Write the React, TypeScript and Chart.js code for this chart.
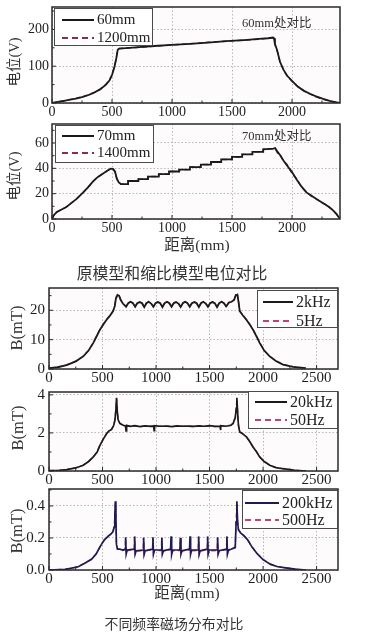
import React, { useEffect, useRef } from 'react';
import { Chart, registerables } from 'chart.js';

Chart.register(...registerables);

// ---------------- data ----------------
const xTicksTop = [0, 500, 1000, 1500, 2000];
const xMinorTop = [250, 750, 1250, 1750, 2250];
const xTicksBottom = [0, 500, 1000, 1500, 2000, 2500];
const xMinorBottom = [250, 750, 1250, 1750, 2250];

const yTicks1 = [0, 100, 200];
const yMinor1 = [50, 150, 250];
const yTicks2 = [0, 20, 40, 60];
const yMinor2 = [10, 30, 50, 70];
const yTicks3 = [0, 10, 20];
const yMinor3 = [5, 15, 25];
const yTicks4 = [0, 2, 4];
const yMinor4 = [1, 3];
const yTicks5 = [0, 0.2, 0.4];
const yMinor5 = [0.1, 0.3, 0.5];

const labels1 = ['60mm', '1200mm'];
const labels2 = ['70mm', '1400mm'];
const labels3 = ['2kHz', '5Hz'];
const labels4 = ['20kHz', '50Hz'];
const labels5 = ['200kHz', '500Hz'];

// Panel 1: potential at 60mm
const pos60 = [0, 50, 100, 150, 200, 250, 300, 350, 400, 450, 480, 500, 520, 535, 548, 560, 700, 850, 1000, 1150, 1300, 1450, 1600, 1750, 1800, 1842, 1850, 1858, 1875, 1900, 1930, 1960, 2000, 2050, 2100, 2150, 2200, 2260, 2320, 2370, 2400];
const v60 = [0, 3, 6, 9, 12, 16, 21, 28, 37, 50, 62, 76, 98, 120, 145, 148, 151, 155, 158, 161, 164, 168, 171, 175, 176, 178, 176, 160, 145, 112, 90, 74, 60, 44, 33, 25, 18, 11, 5, 2, 0];
const v1200 = [0, 3, 6, 9, 13, 17, 22, 28, 37, 51, 63, 77, 99, 121, 146, 148, 151, 154, 158, 161, 165, 168, 171, 174, 176, 177, 175, 158, 144, 111, 89, 73, 59, 44, 33, 24, 17, 10, 5, 2, 0];

// Panel 2: potential at 70mm (staircase)
const pos70 = [0, 15, 40, 80, 120, 160, 200, 250, 300, 340, 380, 420, 460, 490, 510, 525, 540, 555, 575, 634,
  634, 720, 720, 800, 800, 890, 890, 975, 975, 1060, 1060, 1150, 1150, 1240, 1240, 1325, 1325, 1410, 1410, 1500, 1500, 1585, 1585, 1670, 1670, 1760, 1760, 1845,
  1860, 1880, 1900, 1930, 1960, 2000, 2040, 2080, 2120, 2160, 2200, 2250, 2300, 2340, 2370, 2400];
const v70 = [0, 3, 5.5, 7.5, 9.5, 12.5, 15.5, 20, 25, 29.5, 33, 35.5, 38, 39.8, 39.5, 37.5, 32, 29, 27.5, 27.5,
  30, 30, 31.5, 31.5, 33.5, 33.5, 35.5, 35.5, 37.5, 37.5, 39, 39, 41, 41, 43, 43, 45, 45, 47, 47, 49, 49, 51, 51, 53, 53, 55, 55.5,
  56, 53, 50.5, 46, 42, 37, 31, 25.5, 21, 18.5, 16, 13, 10, 7, 4, 0];
const v1400 = [0, 3, 5.5, 7.5, 9.5, 12.5, 15.5, 20, 25, 29.5, 33, 35.5, 38, 39.6, 39.3, 37, 31.5, 28.8, 27.5, 27.5,
  30, 30, 31.5, 31.5, 33.5, 33.5, 35.5, 35.5, 37.5, 37.5, 39, 39, 41, 41, 43, 43, 45, 45, 47, 47, 49, 49, 51, 51, 53, 53, 55, 55.5,
  55.5, 52, 51, 45.5, 43, 36, 31.5, 25, 21.5, 18, 16, 13, 10.5, 7, 4, 0];

// Panel 3: B at 2kHz / 5Hz
const pos2k = [0, 80, 165, 250, 320, 370, 414, 450, 476, 510, 538, 570, 600, 615, 625, 640, 655, 670, 690,
  720, 740, 762, 784, 805, 825, 847, 869, 890, 910, 932, 954, 975, 995, 1017, 1039, 1060, 1080, 1102, 1124,
  1145, 1165, 1187, 1209, 1230, 1250, 1272, 1294, 1315, 1335, 1357, 1379, 1400, 1420, 1442, 1464,
  1485, 1505, 1527, 1549, 1570, 1590, 1612, 1634, 1655, 1680, 1705, 1730, 1745, 1760, 1770, 1782,
  1810, 1844, 1875, 1906, 1940, 1968, 2010, 2062, 2120, 2186, 2280, 2400];
const v2k = [0.3, 0.6, 1.3, 2.6, 4.3, 6.3, 8.9, 11.5, 13.4, 15.3, 16.8, 18.2, 19.8, 21.5, 24, 25.2, 25, 23.5, 22.3,
  21.2, 22.4, 22.9, 22.4, 21.2, 22.4, 22.8, 22.4, 21.1, 22.4, 22.9, 22.3, 21.2, 22.4, 22.8, 22.4, 21.1, 22.4, 22.9, 22.4,
  21.2, 22.4, 22.8, 22.3, 21.1, 22.4, 22.9, 22.4, 21.2, 22.4, 22.8, 22.4, 21.1, 22.4, 22.9, 22.3,
  21.2, 22.4, 22.8, 22.4, 21.1, 22.4, 22.9, 22.4, 21.3, 22.6, 22.9, 23.5, 25.2, 25.3, 23, 19.7,
  18.3, 16.8, 15.2, 13.4, 11, 8.9, 6.3, 4.3, 2.7, 1.5, 0.7, 0.3];
const v5 = [0.3, 0.6, 1.4, 2.7, 4.4, 6.4, 9.0, 11.6, 13.5, 15.4, 16.9, 18.3, 19.9, 21.7, 24.3, 25.4, 25.1, 23.6, 22.4,
  21.4, 22.5, 23.0, 22.5, 21.4, 22.5, 22.9, 22.5, 21.3, 22.5, 23.0, 22.4, 21.4, 22.5, 22.9, 22.5, 21.3, 22.5, 23.0, 22.5,
  21.4, 22.5, 22.9, 22.4, 21.3, 22.5, 23.0, 22.5, 21.4, 22.5, 22.9, 22.5, 21.3, 22.5, 23.0, 22.4,
  21.4, 22.5, 22.9, 22.5, 21.3, 22.5, 23.0, 22.5, 21.5, 22.7, 23.0, 23.7, 25.4, 25.5, 23.2, 19.9,
  18.4, 16.9, 15.3, 13.5, 11.1, 9.0, 6.4, 4.4, 2.8, 1.6, 0.8, 0.3];

// Panel 4: B at 20kHz / 50Hz
const pos20k = [0, 100, 165, 250, 320, 370, 414, 450, 476, 510, 538, 560, 585, 605, 616, 625, 631, 637, 645, 662,
  694, 715, 720, 725, 760, 800, 850, 900, 950, 978, 982, 986, 1030, 1100, 1150, 1200, 1250, 1300, 1350, 1400,
  1450, 1500, 1550, 1598, 1602, 1606, 1650, 1700, 1720, 1740, 1750, 1755, 1762, 1770, 1782, 1810, 1844, 1875, 1906, 1940,
  1968, 2010, 2062, 2120, 2186, 2300, 2400];
const v20k = [0.02, 0.04, 0.07, 0.16, 0.3, 0.5, 0.74, 1.0, 1.35, 1.7, 1.96, 2.1, 2.18, 2.4, 2.67, 3.2, 3.85, 3.2, 2.7, 2.5,
  2.4, 2.36, 2.1, 2.4, 2.35, 2.38, 2.33, 2.37, 2.34, 2.36, 2.12, 2.38, 2.35, 2.36, 2.33, 2.37, 2.35, 2.36, 2.34, 2.37,
  2.35, 2.38, 2.34, 2.35, 2.15, 2.38, 2.35, 2.4, 2.5, 2.8, 3.3, 3.85, 3.1, 2.4, 2.05, 1.95, 1.8, 1.55, 1.26, 1.0,
  0.74, 0.5, 0.3, 0.18, 0.12, 0.04, 0.0];
const v50 = [0.02, 0.04, 0.07, 0.17, 0.31, 0.5, 0.75, 1.02, 1.36, 1.72, 1.97, 2.1, 2.2, 2.42, 2.7, 3.25, 3.8, 3.25, 2.72, 2.5,
  2.4, 2.36, 2.34, 2.36, 2.35, 2.36, 2.34, 2.36, 2.35, 2.35, 2.34, 2.36, 2.35, 2.35, 2.34, 2.36, 2.35, 2.35, 2.34, 2.36,
  2.35, 2.36, 2.34, 2.35, 2.34, 2.36, 2.35, 2.4, 2.52, 2.82, 3.3, 3.8, 3.15, 2.42, 2.06, 1.96, 1.8, 1.56, 1.27, 1.01,
  0.75, 0.51, 0.31, 0.19, 0.12, 0.04, 0.0];

// Panel 5: B at 200kHz / 500Hz
const pos200k = [0, 149, 200, 273, 330, 397, 440, 490, 520, 552, 580, 598, 610, 615, 620, 625, 630, 640, 660, 690,
  711, 716, 721, 730, 795, 800, 805, 814, 879, 884, 889, 898, 966, 971, 976, 985, 1049, 1054, 1059, 1068,
  1136, 1141, 1146, 1155, 1223, 1228, 1233, 1242, 1313, 1318, 1323, 1332, 1393, 1398, 1403, 1412,
  1477, 1482, 1487, 1496, 1570, 1575, 1580, 1589, 1657, 1662, 1667, 1676,
  1700, 1740, 1748, 1755, 1762, 1770, 1792, 1820, 1854, 1900, 1947, 2000, 2071, 2130, 2195, 2300, 2400];
const v200k = [0, 0.004, 0.01, 0.02, 0.04, 0.067, 0.1, 0.16, 0.19, 0.21, 0.225, 0.24, 0.27, 0.33, 0.43, 0.33, 0.16, 0.13, 0.13, 0.125,
  0.13, 0.205, 0.1, 0.125, 0.13, 0.21, 0.1, 0.12, 0.125, 0.2, 0.098, 0.12, 0.13, 0.205, 0.1, 0.125, 0.125, 0.2, 0.1, 0.12,
  0.13, 0.21, 0.098, 0.125, 0.125, 0.2, 0.1, 0.12, 0.13, 0.21, 0.1, 0.125, 0.125, 0.21, 0.098, 0.12,
  0.13, 0.21, 0.1, 0.125, 0.125, 0.205, 0.1, 0.12, 0.13, 0.21, 0.1, 0.125,
  0.13, 0.14, 0.3, 0.43, 0.3, 0.25, 0.23, 0.215, 0.19, 0.14, 0.1, 0.065, 0.035, 0.022, 0.015, 0.005, 0];
const v500 = [0, 0.004, 0.01, 0.021, 0.041, 0.068, 0.1, 0.162, 0.192, 0.212, 0.226, 0.242, 0.275, 0.34, 0.42, 0.34, 0.165, 0.132, 0.128, 0.122,
  0.128, 0.2, 0.105, 0.12, 0.127, 0.205, 0.104, 0.118, 0.122, 0.205, 0.1, 0.118, 0.127, 0.2, 0.104, 0.12, 0.122, 0.205, 0.104, 0.118,
  0.127, 0.205, 0.1, 0.12, 0.122, 0.205, 0.104, 0.118, 0.127, 0.2, 0.104, 0.12, 0.122, 0.205, 0.1, 0.118,
  0.127, 0.205, 0.104, 0.12, 0.122, 0.2, 0.104, 0.118, 0.127, 0.205, 0.104, 0.12,
  0.128, 0.145, 0.31, 0.42, 0.31, 0.255, 0.232, 0.216, 0.192, 0.142, 0.102, 0.066, 0.036, 0.023, 0.015, 0.005, 0];

// ---------------- styling / layout ----------------
const SERIF = "'Liberation Serif', 'Times New Roman', 'Noto Sans CJK SC', serif";
const CJK = "'Noto Sans CJK SC', 'Noto Sans', sans-serif";
const SOLID_DARK = '#1a1a1a';
const DASH_TOP = '#8e2c48';
const DASH_PINK = '#c6416c';
const NAVY = '#1e1a52';

interface Series { label: string; y: number[]; color: string; dash: number[]; width: number }
interface Spec {
  canvasTop: number; canvasHeight: number;
  left: number; right: number; top: number; bottom: number;
  xs: number[]; series: Series[];
  xMax: number; yMax: number;
  xTicks: number[]; xMinor: number[]; yTicks: number[]; yMinor: number[];
  yFmt: (v: number) => string;
  tickSize: number; yPad: number;
  yTitle: { text: string; x: number; y: number; size: number };
  xTitle?: { text: string; x: number; y: number; size: number };
  legend: { x: number; y: number; w: number; h: number; lx0: number; lx1: number; tx: number; rows: number[]; size: number };
  note?: { text: string; x: number; y: number; size: number };
}

const specs: Spec[] = [
  {
    canvasTop: 0, canvasHeight: 122, left: 52, right: 340, top: 7, bottom: 103,
    xs: pos60,
    series: [
      { label: labels1[0], y: v60, color: SOLID_DARK, dash: [], width: 1.8 },
      { label: labels1[1], y: v1200, color: DASH_TOP, dash: [5, 3], width: 1.4 },
    ],
    xMax: 2400, yMax: 261,
    xTicks: xTicksTop, xMinor: xMinorTop, yTicks: yTicks1, yMinor: yMinor1,
    yFmt: (v) => String(v), tickSize: 14, yPad: 3,
    yTitle: { text: '电位(V)', x: 15, y: 62, size: 14.5 },
    legend: { x: 54, y: 8, w: 98, h: 37, lx0: 62, lx1: 94, tx: 97, rows: [20, 38], size: 15 },
    note: { text: '60mm处对比', x: 242, y: 24, size: 12.5 },
  },
  {
    canvasTop: 112, canvasHeight: 145, left: 52, right: 340, top: 124, bottom: 219,
    xs: pos70,
    series: [
      { label: labels2[0], y: v70, color: SOLID_DARK, dash: [], width: 1.8 },
      { label: labels2[1], y: v1400, color: DASH_TOP, dash: [5, 3], width: 1.4 },
    ],
    xMax: 2400, yMax: 75,
    xTicks: xTicksTop, xMinor: xMinorTop, yTicks: yTicks2, yMinor: yMinor2,
    yFmt: (v) => String(v), tickSize: 14, yPad: 3,
    yTitle: { text: '电位(V)', x: 15, y: 176, size: 14.5 },
    xTitle: { text: '距离(mm)', x: 197, y: 246, size: 15.5 },
    legend: { x: 55, y: 125, w: 98, h: 37, lx0: 62, lx1: 94, tx: 97, rows: [136, 153], size: 15 },
    note: { text: '70mm处对比', x: 242, y: 137, size: 12.5 },
  },
  {
    canvasTop: 280, canvasHeight: 106, left: 49, right: 338, top: 288, bottom: 369,
    xs: pos2k,
    series: [
      { label: labels3[0], y: v2k, color: SOLID_DARK, dash: [], width: 1.8 },
      { label: labels3[1], y: v5, color: DASH_PINK, dash: [5, 3], width: 1.4 },
    ],
    xMax: 2700, yMax: 27.6,
    xTicks: xTicksBottom, xMinor: xMinorBottom, yTicks: yTicks3, yMinor: yMinor3,
    yFmt: (v) => String(v), tickSize: 15, yPad: 4,
    yTitle: { text: 'B(mT)', x: 18, y: 328, size: 16.5 },
    legend: { x: 257, y: 290, w: 80, h: 37, lx0: 263, lx1: 293, tx: 296, rows: [302, 321], size: 16 },
  },
  {
    canvasTop: 386, canvasHeight: 100, left: 49, right: 338, top: 392, bottom: 471,
    xs: pos20k,
    series: [
      { label: labels4[0], y: v20k, color: SOLID_DARK, dash: [], width: 1.7 },
      { label: labels4[1], y: v50, color: DASH_PINK, dash: [5, 3], width: 1.4 },
    ],
    xMax: 2700, yMax: 4.15,
    xTicks: xTicksBottom, xMinor: xMinorBottom, yTicks: yTicks4, yMinor: yMinor4,
    yFmt: (v) => String(v), tickSize: 15, yPad: 4,
    yTitle: { text: 'B(mT)', x: 19, y: 428, size: 16.5 },
    legend: { x: 248, y: 391, w: 89, h: 37, lx0: 255, lx1: 287, tx: 290, rows: [402, 420], size: 16 },
  },
  {
    canvasTop: 486, canvasHeight: 118, left: 49, right: 338, top: 489, bottom: 570,
    xs: pos200k,
    series: [
      { label: labels5[0], y: v200k, color: NAVY, dash: [], width: 1.7 },
      { label: labels5[1], y: v500, color: DASH_PINK, dash: [5, 3], width: 1.4 },
    ],
    xMax: 2700, yMax: 0.506,
    xTicks: xTicksBottom, xMinor: xMinorBottom, yTicks: yTicks5, yMinor: yMinor5,
    yFmt: (v) => v.toFixed(1), tickSize: 15, yPad: 4,
    yTitle: { text: 'B(mT)', x: 18, y: 531, size: 16.5 },
    xTitle: { text: '距离(mm)', x: 187, y: 594, size: 15.5 },
    legend: { x: 242, y: 490, w: 95, h: 38, lx0: 245, lx1: 279, tx: 282, rows: [503, 520], size: 16 },
  },
];

function makeDeco(p: Spec) {
  return {
    id: 'deco',
    beforeDraw(chart: any) {
      const { ctx, chartArea: a } = chart;
      ctx.save();
      ctx.fillStyle = '#fdfbfc';
      ctx.fillRect(a.left, a.top, a.right - a.left, a.bottom - a.top);
      ctx.restore();
    },
    afterDraw(chart: any) {
      const { ctx, chartArea: a, scales } = chart;
      const off = p.canvasTop;
      const xs = scales.x;
      const ys = scales.y;
      ctx.save();
      // inward ticks
      ctx.strokeStyle = '#2a2a2a';
      ctx.lineWidth = 1;
      ctx.setLineDash([]);
      const vline = (px: number, len: number) => {
        ctx.beginPath(); ctx.moveTo(px, a.bottom); ctx.lineTo(px, a.bottom - len); ctx.stroke();
      };
      const hline = (py: number, len: number) => {
        ctx.beginPath(); ctx.moveTo(a.left, py); ctx.lineTo(a.left + len, py); ctx.stroke();
      };
      p.xTicks.forEach((v) => vline(xs.getPixelForValue(v), 4));
      p.xMinor.forEach((v) => vline(xs.getPixelForValue(v), 2.5));
      p.yTicks.forEach((v) => hline(ys.getPixelForValue(v), 4));
      p.yMinor.forEach((v) => { if (v < p.yMax) hline(ys.getPixelForValue(v), 2.5); });
      // frame
      ctx.lineWidth = 1.5;
      ctx.strokeRect(a.left, a.top, a.right - a.left, a.bottom - a.top);

      // legend
      const L = p.legend;
      ctx.fillStyle = '#ffffff';
      ctx.fillRect(L.x, L.y - off, L.w, L.h);
      ctx.strokeStyle = '#4a4a4a';
      ctx.lineWidth = 1;
      ctx.strokeRect(L.x + 0.5, L.y - off + 0.5, L.w, L.h);
      p.series.forEach((s, i) => {
        const y = L.rows[i] - off;
        ctx.strokeStyle = s.color;
        ctx.lineWidth = 2;
        ctx.setLineDash(s.dash.length ? [6, 4] : []);
        ctx.beginPath(); ctx.moveTo(L.lx0, y); ctx.lineTo(L.lx1, y); ctx.stroke();
        ctx.setLineDash([]);
        ctx.fillStyle = '#222';
        ctx.font = `${L.size}px ${SERIF}`;
        ctx.textAlign = 'left';
        ctx.textBaseline = 'middle';
        ctx.fillText(s.label, L.tx, y + 0.5);
      });

      // annotation
      if (p.note) {
        ctx.fillStyle = '#333';
        ctx.font = `${p.note.size}px ${SERIF}`;
        ctx.textAlign = 'left';
        ctx.textBaseline = 'middle';
        ctx.fillText(p.note.text, p.note.x, p.note.y - off);
      }
      // y title
      ctx.save();
      ctx.translate(p.yTitle.x, p.yTitle.y - off);
      ctx.rotate(-Math.PI / 2);
      ctx.fillStyle = '#333';
      ctx.font = `${p.yTitle.size}px ${SERIF}`;
      ctx.textAlign = 'center';
      ctx.textBaseline = 'middle';
      ctx.fillText(p.yTitle.text, 0, 0);
      ctx.restore();
      // x title
      if (p.xTitle) {
        ctx.fillStyle = '#333';
        ctx.font = `${p.xTitle.size}px ${SERIF}`;
        ctx.textAlign = 'center';
        ctx.textBaseline = 'middle';
        ctx.fillText(p.xTitle.text, p.xTitle.x, p.xTitle.y - off);
      }
      ctx.restore();
    },
  };
}

function Panel({ p }: { p: Spec }) {
  const ref = useRef<HTMLCanvasElement>(null);
  useEffect(() => {
    if (!ref.current) return;
    const xAxisHeight = p.canvasHeight - (p.bottom - p.canvasTop);
    const chart = new Chart(ref.current, {
      type: 'line',
      data: {
        datasets: p.series.map((s) => ({
          label: s.label,
          data: p.xs.map((xv, i) => ({ x: xv, y: s.y[i] })),
          borderColor: s.color,
          borderWidth: s.width,
          borderDash: s.dash,
          pointRadius: 0,
          tension: 0,
          fill: false,
        })),
      },
      options: {
        animation: false,
        responsive: false,
        maintainAspectRatio: false,
        events: [],
        layout: { padding: { top: p.top - p.canvasTop, right: 367 - p.right, left: 0, bottom: 0 } },
        plugins: { legend: { display: false }, tooltip: { enabled: false } },
        scales: {
          x: {
            type: 'linear',
            min: 0,
            max: p.xMax,
            afterBuildTicks: (ax: any) => { ax.ticks = p.xTicks.map((v) => ({ value: v })); },
            afterFit: (sc: any) => {
              sc.height = xAxisHeight;
              sc.paddingLeft = 0; sc.paddingRight = 0; sc.paddingTop = 0; sc.paddingBottom = 0;
            },
            grid: { color: '#b8b8b8', drawTicks: false, lineWidth: 1 },
            border: { display: false, dash: [1.5, 2] },
            ticks: {
              padding: 0.5,
              autoSkip: false,
              maxRotation: 0,
              color: '#1e1e1e',
              font: { family: SERIF, size: p.tickSize },
              callback: (v: any) => String(v),
            },
          },
          y: {
            type: 'linear',
            min: 0,
            max: p.yMax,
            afterBuildTicks: (ax: any) => { ax.ticks = p.yTicks.map((v) => ({ value: v })); },
            afterFit: (sc: any) => {
              sc.width = p.left;
              sc.paddingLeft = 0; sc.paddingRight = 0; sc.paddingTop = 0; sc.paddingBottom = 0;
            },
            grid: { color: '#b8b8b8', drawTicks: false, lineWidth: 1 },
            border: { display: false, dash: [1.5, 2] },
            ticks: {
              padding: p.yPad,
              autoSkip: false,
              color: '#1e1e1e',
              font: { family: SERIF, size: p.tickSize },
              callback: (v: any) => p.yFmt(Number(v)),
            },
          },
        },
      } as any,
      plugins: [makeDeco(p)],
    });
    return () => chart.destroy();
  }, [p]);
  return (
    <canvas
      ref={ref}
      width={367}
      height={p.canvasHeight}
      style={{ position: 'absolute', left: 0, top: p.canvasTop, width: 367, height: p.canvasHeight }}
    />
  );
}

export default function App() {
  return (
    <div style={{ position: 'absolute', left: 0, top: 0, width: 367, height: 638, background: '#ffffff', overflow: 'hidden' }}>
      {specs.map((p, i) => (
        <Panel key={i} p={p} />
      ))}
      <div
        style={{
          position: 'absolute', left: 0, top: 265, width: 344, textAlign: 'center',
          fontFamily: CJK, fontSize: 15.9, lineHeight: '16px', color: '#333',
        }}
      >
        原模型和缩比模型电位对比
      </div>
      <div
        style={{
          position: 'absolute', left: 0, top: 616, width: 348, textAlign: 'center',
          fontFamily: CJK, fontSize: 13.9, lineHeight: '14px', color: '#333',
        }}
      >
        不同频率磁场分布对比
      </div>
    </div>
  );
}
